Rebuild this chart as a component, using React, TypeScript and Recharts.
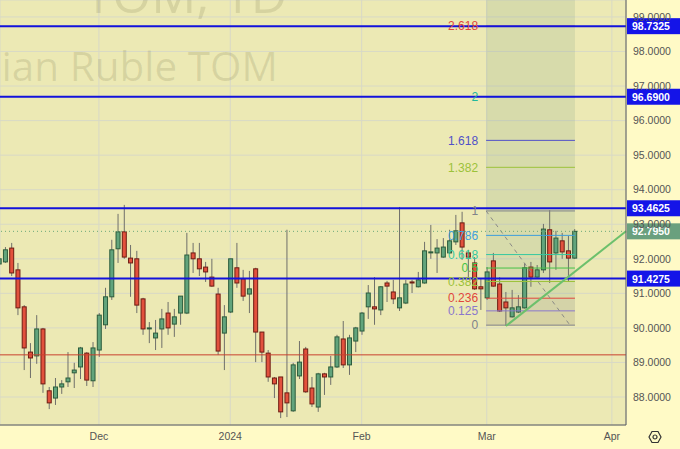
import React from 'react';
import {
  ComposedChart,
  Bar,
  XAxis,
  YAxis,
  CartesianGrid,
  ReferenceLine,
  ReferenceArea,
} from 'recharts';

// daily candles (index 0 = leftmost, partly clipped bar)
const opens = [
  91.85, 91.91, 92.31, 91.68, 90.61, 89.30, 89.19, 89.97, 88.18, 87.97,
  88.29, 88.44, 88.70, 88.87, 89.27, 88.47, 89.36, 90.09, 90.90, 92.29,
  92.78, 92.02, 92.00, 90.84, 89.99, 89.71, 89.97, 90.43, 90.11, 90.43,
  90.43, 92.17, 92.00, 91.76, 91.47, 90.98, 89.85, 90.46, 91.74, 91.42,
  90.98, 91.71, 89.88, 89.27, 88.55, 88.58, 88.12, 87.60, 88.61, 89.39,
  88.26, 87.71, 88.67, 88.58, 88.87, 89.68, 88.93, 89.62, 89.91, 90.61,
  90.61, 90.52, 91.30, 91.04, 90.58, 90.72, 91.33, 91.19, 91.30, 92.19,
  92.17, 92.05, 92.17, 92.49, 93.04, 92.17, 91.88, 91.19, 90.87, 91.94,
  91.27, 90.75, 90.32, 90.46, 90.58, 91.76, 91.47, 91.68, 92.84, 92.17,
  92.52, 92.23, 92.02,
];
const highs = [
  92.05, 92.34, 92.46, 91.88, 90.66, 89.56, 90.37, 90.00, 88.29, 88.55,
  88.49, 89.30, 88.99, 89.45, 89.30, 89.59, 90.43, 91.16, 92.55, 93.30,
  93.56, 92.40, 92.23, 90.87, 90.17, 90.23, 90.55, 90.75, 90.55, 90.92,
  92.75, 92.46, 92.46, 91.91, 92.00, 91.16, 90.66, 92.00, 92.46, 91.68,
  91.65, 91.74, 89.88, 89.36, 88.58, 88.58, 92.84, 88.99, 89.62, 89.45,
  88.58, 88.70, 88.70, 89.19, 89.80, 90.20, 89.80, 90.03, 90.46, 91.24,
  91.47, 91.21, 91.36, 91.39, 93.50, 91.39, 91.39, 91.62, 92.49, 92.98,
  92.57, 92.60, 92.84, 93.27, 93.36, 92.26, 92.05, 91.42, 91.76, 92.17,
  91.47, 91.04, 91.10, 90.95, 91.88, 91.91, 91.82, 93.01, 93.41, 92.81,
  92.75, 92.66, 92.86,
];
const lows = [
  91.80, 91.88, 91.50, 90.37, 88.78, 88.55, 88.96, 88.12, 87.65, 87.77,
  88.09, 88.29, 88.26, 88.52, 88.32, 88.29, 89.16, 89.97, 90.81, 91.88,
  92.00, 90.90, 90.43, 89.80, 89.56, 89.36, 89.42, 89.80, 89.74, 90.09,
  90.40, 91.59, 91.50, 91.33, 91.19, 89.22, 88.78, 90.43, 91.16, 90.78,
  90.43, 89.01, 89.01, 88.44, 87.97, 87.39, 87.42, 87.57, 88.52, 88.12,
  87.71, 87.57, 88.06, 88.35, 88.84, 88.84, 88.64, 89.30, 89.80, 90.26,
  90.09, 90.37, 90.75, 90.69, 90.49, 90.69, 91.01, 91.17, 91.28, 92.00,
  91.59, 92.03, 92.15, 92.40, 91.97, 91.45, 91.10, 90.52, 90.81, 91.19,
  90.46, 90.06, 90.30, 90.43, 90.56, 91.19, 91.45, 91.59, 91.30, 91.68,
  92.00, 91.33, 92.00,
];
const closes = [
  92.00, 92.26, 91.59, 90.58, 89.42, 89.13, 89.97, 88.38, 87.83, 88.29,
  88.38, 88.55, 88.78, 89.42, 88.49, 89.42, 90.37, 90.90, 92.26, 92.78,
  92.05, 91.88, 90.66, 89.97, 90.00, 89.85, 90.26, 90.00, 90.32, 90.92,
  92.11, 92.00, 91.71, 91.62, 91.21, 89.33, 90.32, 92.00, 91.30, 90.92,
  91.13, 89.88, 89.30, 88.58, 88.38, 87.57, 87.83, 88.93, 89.01, 88.15,
  87.80, 88.67, 88.58, 88.87, 89.74, 88.93, 89.71, 90.00, 90.43, 91.01,
  90.55, 91.19, 91.21, 90.84, 90.87, 91.27, 91.30, 91.39, 92.23, 92.20,
  92.31, 92.34, 92.52, 92.81, 92.34, 92.05, 91.13, 91.13, 91.62, 91.21,
  90.49, 90.58, 90.58, 90.61, 91.74, 91.47, 91.68, 92.86, 91.91, 92.60,
  92.20, 92.02, 92.795,
];

const monthTicks = [16, 37, 58, 78, 98];
const monthLabels = ['Dec', '2024', 'Feb', 'Mar', 'Apr'];
const priceTicks = [88, 89, 90, 91, 92, 93, 94, 95, 96, 97, 98, 99];

const blueLevels = [98.7325, 96.69, 93.4625, 91.4275];
const redLevel = 89.22;
const lastPrice = 92.795;

// fibonacci tool
const fibBase = 90.08;
const fibRange = 3.305;
const fibStart = 77.9;
const fibEnd = 92.1;
const fibRatios = [0, 0.125, 0.236, 0.382, 0.5, 0.618, 0.786, 1, 1.382, 1.618, 2, 2.618];
const fibLabels = ['0', '0.125', '0.236', '0.382', '0.5', '0.618', '0.786', '1', '1.382', '1.618', '2', '2.618'];
const fibColors = [
  '#80828a', '#8a78cc', '#e0463c', '#9cc23a', '#46c246', '#36c8a0',
  '#3f9fdc', '#80828a', '#9cc23a', '#5050c8', '#22b89c', '#e0463c',
];

// trend line (index, price)
const trendStart = { x: 81.07, y: 90.056 };
const trendEnd = { x: 100.26, y: 92.795 };

const X_DOMAIN = [0.19, 100.26];
const Y_DOMAIN = [87.19, 99.49];

const FONT = '"Liberation Sans", Arial, sans-serif';
const GREEN = '#62a47c';
const RED = '#e2513d';

const candles = opens.map((o, i) => ({
  i,
  o,
  h: highs[i],
  l: lows[i],
  c: closes[i],
  range: [lows[i], highs[i]],
}));

function Candle(props: any) {
  const { x, y, width, height, payload } = props;
  if (!payload) return null;
  const { o, h, l, c } = payload;
  const top = Math.min(y, y + height);
  const span = Math.abs(height);
  const per = h > l ? span / (h - l) : 0;
  const yOf = (v: number) => top + (h - v) * per;
  const cx = x + width / 2;
  const up = c >= o;
  const bTop = yOf(Math.max(o, c));
  const bH = Math.max(1, Math.abs(yOf(o) - yOf(c)));
  return (
    <g>
      <line x1={cx} x2={cx} y1={top} y2={top + span} stroke="#6f6f6a" strokeWidth={1} />
      <rect
        x={cx - 2}
        y={bTop}
        width={4}
        height={bH}
        fill={up ? GREEN : RED}
        stroke={up ? '#2c5c3c' : '#6e1c12'}
        strokeWidth={1}
      />
    </g>
  );
}

const priceTag = (value: number, bg: string) => (props: any) => {
  const vb = props.viewBox || {};
  const yy = vb.y;
  const xx = vb.x + vb.width;
  return (
    <g>
      <rect x={xx + 1} y={yy - 8} width={53} height={16} fill={bg} />
      <text x={xx + 6} y={yy + 4} fill="#ffffff" fontSize={10.5} fontWeight="bold" fontFamily={FONT}>
        {value.toFixed(4)}
      </text>
    </g>
  );
};

export default function App() {
  return (
    <div
      style={{
        position: 'absolute',
        left: 0,
        top: 0,
        width: 680,
        height: 449,
        background: '#fffac6',
        overflow: 'hidden',
      }}
    >
      <ComposedChart
        width={680}
        height={449}
        data={candles}
        margin={{ top: 0, right: 0, bottom: 0, left: 0 }}
      >
        <CartesianGrid stroke="#d8d9c6" fill="#ece9b4" fillOpacity={1} />
        <XAxis
          dataKey="i"
          type="number"
          domain={X_DOMAIN}
          allowDataOverflow
          ticks={monthTicks}
          tickFormatter={(v: number) => monthLabels[monthTicks.indexOf(v)] ?? ''}
          height={24}
          tickSize={4}
          tickMargin={4}
          tickLine={false}
          axisLine={{ stroke: '#5a5a5a' }}
          tick={{ fill: '#555', fontSize: 10.5, fontFamily: FONT }}
        />
        <YAxis
          orientation="right"
          type="number"
          domain={Y_DOMAIN}
          allowDataOverflow
          ticks={priceTicks}
          tickFormatter={(v: number) => v.toFixed(4)}
          width={54}
          tickSize={4}
          tickMargin={3}
          tickLine={false}
          axisLine={{ stroke: '#5a5a5a' }}
          tick={{ fill: '#555', fontSize: 10.5, fontFamily: FONT }}
        />

        {/* fib shading */}
        <ReferenceArea
          x1={fibStart}
          x2={fibEnd}
          y1={fibBase}
          y2={Y_DOMAIN[1]}
          fill="#7c9c84"
          fillOpacity={0.18}
          stroke="none"
          ifOverflow="hidden"
        />
        <ReferenceArea
          x1={fibStart}
          x2={fibEnd}
          y1={fibBase}
          y2={fibBase + fibRange * 0.125}
          fill="#e0a070"
          fillOpacity={0.12}
          stroke="none"
        />
        <ReferenceArea
          x1={fibStart}
          x2={fibEnd}
          y1={fibBase + fibRange * 0.125}
          y2={fibBase + fibRange * 0.236}
          fill="#b08090"
          fillOpacity={0.08}
          stroke="none"
        />

        <ReferenceLine y={redLevel} stroke="#c8402e" strokeWidth={1} />

        {fibRatios.map((r, idx) => (
          <ReferenceLine
            key={`fib-${idx}`}
            segment={[
              { x: fibStart, y: fibBase + fibRange * r },
              { x: fibEnd, y: fibBase + fibRange * r },
            ]}
            stroke={fibColors[idx]}
            strokeWidth={1}
            label={{
              value: fibLabels[idx],
              position: 'left',
              offset: 8,
              fill: fibColors[idx],
              fontSize: 12,
              fontFamily: FONT,
            }}
          />
        ))}

        <ReferenceLine
          segment={[
            { x: fibStart, y: fibBase + fibRange },
            { x: fibEnd - 0.8, y: fibBase },
          ]}
          stroke="#8a8a86"
          strokeDasharray="4 4"
          strokeWidth={1}
        />

        <ReferenceLine
          y={lastPrice}
          stroke="#6aa87a"
          strokeDasharray="1 3"
          strokeWidth={1}
          label={priceTag(lastPrice, '#6aa07e')}
        />

        {blueLevels.map((v) => (
          <ReferenceLine
            key={`blue-${v}`}
            y={v}
            stroke="#1212dc"
            strokeWidth={2}
            label={priceTag(v, '#1414e8')}
          />
        ))}

        <Bar
          dataKey="range"
          barSize={5}
          shape={Candle}
          isAnimationActive={false}
        />

        <ReferenceLine
          segment={[trendStart, trendEnd]}
          stroke="#6cc06c"
          strokeWidth={2}
          ifOverflow="visible"
        />
      </ComposedChart>

      {/* watermark */}
      <svg
        width={680}
        height={449}
        style={{ position: 'absolute', left: 0, top: 0, pointerEvents: 'none' }}
      >
        <text
          x={287}
          y={13}
          textAnchor="end"
          fontSize={50}
          fontFamily='"Open Sans", sans-serif'
          fill="rgba(60,60,20,0.12)"
        >
          TOM, 1D
        </text>
        <text
          x={278}
          y={81}
          textAnchor="end"
          fontSize={40.5}
          fontFamily='"Open Sans", sans-serif'
          fill="rgba(60,60,20,0.12)"
        >
          US Dollar / Russian Ruble TOM
        </text>
        <g transform="translate(655,437)" fill="none" stroke="#333" strokeWidth={1.2}>
          <polygon points="-6,0 -3,-5.5 3,-5.5 6,0 3,5.5 -3,5.5" />
          <circle cx={0} cy={0} r={2} />
        </g>
      </svg>
    </div>
  );
}
